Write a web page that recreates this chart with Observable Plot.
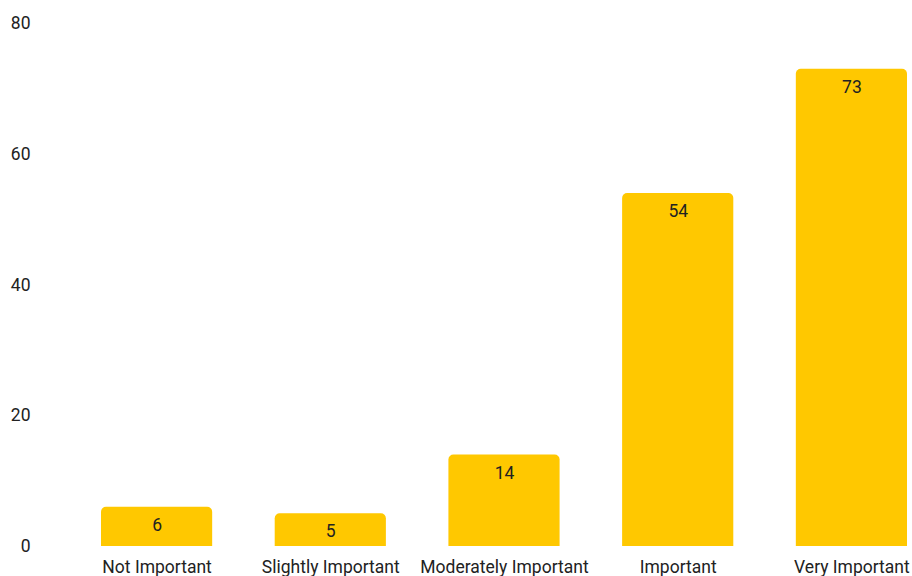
<!DOCTYPE html>
<html>
<head>
<meta charset="utf-8">
<script src="https://cdn.jsdelivr.net/npm/d3@7"></script>
<script src="https://cdn.jsdelivr.net/npm/@observablehq/plot@0.6"></script>
<style>
  html, body { margin: 0; padding: 0; background: #fff; }
  #chart svg { display: block; }
</style>
</head>
<body>
<div id="chart"></div>
<script>
const categories = ["Not Important", "Slightly Important", "Moderately Important", "Important", "Very Important"];
const counts = [6, 5, 14, 54, 73];
const yTicks = [0, 20, 40, 60, 80];

const data = categories.map((c, i) => ({category: c, count: counts[i]}));

const chart = Plot.plot({
  width: 912,
  height: 576,
  marginTop: 23,
  marginBottom: 30,
  marginLeft: 101,
  marginRight: 5,
  style: {fontFamily: "Roboto, sans-serif", fontSize: "17.5px", color: "#222", background: "#fff"},
  x: {domain: categories, paddingInner: 0.36, paddingOuter: 0, round: false, label: null},
  y: {domain: [0, 80], label: null},
  marks: [
    Plot.axisY({ticks: yTicks, tickSize: 0, tickPadding: 71, fontSize: 17.5, label: null}),
    Plot.axisX({tickSize: 0, tickPadding: 14, fontSize: 17.5, label: null}),
    Plot.barY(data, {x: "category", y: "count", fill: "#FFC800", rx: 5, insetBottom: -8, clip: "frame"}),
    Plot.text(data, {x: "category", y: "count", text: d => String(d.count), dy: 18, fill: "#222", fontSize: 17.5})
  ]
});
document.getElementById("chart").appendChild(chart);
</script>
</body>
</html>
